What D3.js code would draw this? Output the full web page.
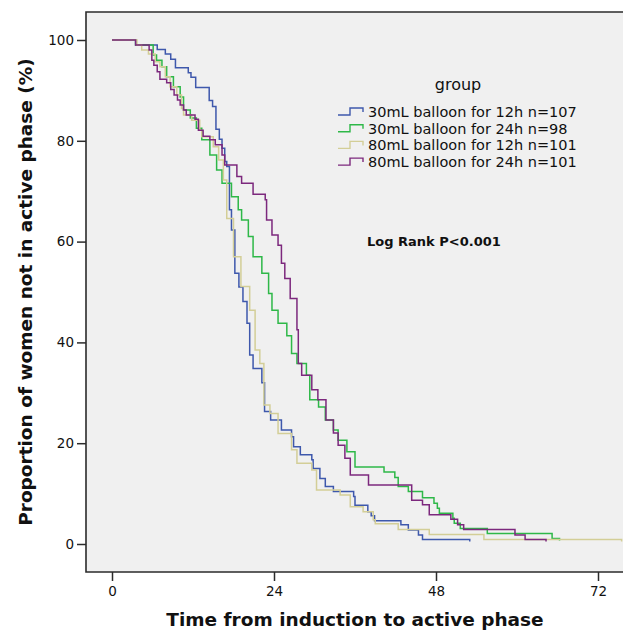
<!DOCTYPE html>
<head>
  <meta charset="utf-8">
  <script src="https://d3js.org/d3.v7.min.js"></script>
  <style>
    body { margin:0; background:#fff; }
    svg { display:block; }
    text { font-family: "DejaVu Sans", sans-serif; fill:#111; }
  </style>
</head>
<body>
  <svg width="623" height="633"></svg>
  <script>
    // group labels and SPSS default colours
    var groups = ['30mL balloon for 12h n=107', '30mL balloon for 24h n=98',
                  '80mL balloon for 12h n=101', '80mL balloon for 24h n=101'];
    var colors = ['#3e58ac', '#2eb848', '#d3ce97', '#7c287d'];
    var xTicks = [0, 24, 48, 72];
    var yTicks = [0, 20, 40, 60, 80, 100];

    // [hours, % still not in active phase] read off the steps
    var b30_12 = [[0,100],[3.5,99],[6.7,98.1],[7.9,97.2],[8.7,96.2],[9.4,94.5],[11.3,93.5],[11.7,92.6],
      [12.4,90.6],[14.4,88.0],[14.9,86.8],[15.4,82.3],[15.9,80.3],[16.3,78.5],[16.7,75.9],[17.0,74.9],
      [17.4,66.3],[17.7,62.3],[18.2,53.7],[18.8,51.0],[19.4,48.1],[20.0,43.8],[20.4,37.5],[20.9,34.8],
      [22.2,32.0],[22.6,26.3],[23.5,24.6],[25.1,22.6],[26.6,21.3],[26.9,19.3],[27.9,17.7],[29.6,16.7],
      [29.8,15.0],[30.8,13.0],[31.6,11.4],[32.8,10.4],[35.8,9.4],[36.0,7.7],[37.9,6.4],[38.4,5.6],
      [38.9,4.6],[42.8,3.8],[43.9,2.8],[45.4,1.8],[46.0,0.9],[53.0,0.9]];
    var b30_24 = [[0,100],[3.5,99],[6.1,97.0],[6.6,96.0],[7.4,94.7],[8.1,92.7],[9.1,90.7],[10.1,88.7],
      [10.6,86.1],[11.6,84.5],[12.5,82.5],[13.3,80.2],[14.5,77.2],[15.5,74.2],[16.3,71.6],[17.7,68.9],
      [18.7,66.3],[19.2,64.3],[20.2,61.0],[20.9,57.0],[22.2,53.7],[23.2,49.7],[23.7,46.4],[24.6,43.8],
      [25.9,41.3],[26.6,37.8],[27.4,35.8],[28.8,33.5],[29.3,28.6],[30.6,27.2],[31.6,24.6],[32.8,22.6],
      [33.5,20.6],[34.8,18.3],[36.0,15.3],[40.3,14.3],[41.9,13.2],[42.4,11.4],[43.9,10.4],[46.0,9.2],
      [47.7,8.1],[48.2,7.1],[48.5,6.1],[50.5,5.1],[50.7,4.1],[51.6,3.1],[55.6,2.1],[65.2,1.1],[66.3,1.1]];
    var b80_12 = [[0,100],[3.7,99],[4.4,98],[5.4,97.2],[6.4,95.7],[7.1,94.7],[7.9,92.7],[8.6,90.7],
      [9.6,89.1],[10.3,86.4],[10.6,85.1],[11.8,84.1],[13.0,82.1],[13.3,80.8],[15.0,78.8],[15.8,76.2],
      [16.5,72.2],[17.0,64.6],[18.0,57.0],[19.1,51.1],[20.4,46.4],[21.2,38.5],[21.9,35.8],[22.5,27.6],
      [23.4,25.9],[24.6,21.9],[26.6,18.7],[27.4,16.0],[29.6,14.7],[30.3,10.7],[33.8,9.7],[35.3,7.4],
      [37.2,6.4],[38.7,4.8],[39.0,4.0],[42.4,2.9],[47.0,1.9],[55.1,0.9],[75.5,0.9]];
    var b80_24 = [[0,100],[3.5,99],[5.5,98.0],[5.9,96.0],[6.2,95.0],[6.7,93.7],[7.1,92.2],[8.1,91.5],
      [8.7,90.2],[9.2,89.1],[9.7,88.1],[10.1,87.1],[10.6,86.1],[11.0,85.1],[12.3,84.3],[12.8,82.1],
      [13.5,80.9],[14.5,80.2],[15.3,79.2],[16.3,77.2],[16.7,75.2],[18.5,72.9],[19.2,71.6],[20.9,69.4],
      [22.7,68.3],[22.9,64.3],[23.7,61.3],[24.6,59.3],[25.1,55.7],[25.6,52.7],[26.4,48.7],[27.4,42.5],
      [27.6,35.8],[28.1,33.5],[29.6,30.6],[30.5,28.6],[31.7,24.6],[32.8,22.0],[33.5,19.6],[34.5,17.0],
      [35.3,13.7],[38.0,11.7],[44.4,8.7],[46.0,7.8],[47.0,5.8],[50.2,4.9],[51.2,3.8],[52.1,2.9],
      [59.7,1.8],[61.2,0.9],[64.3,0.9]];
    var series = [b30_12, b30_24, b80_12, b80_24];

    var width = 623, height = 633;
    var frame = {left: 86, top: 12, bottom: 572};

    var svg = d3.select('svg');

    var xScale = d3.scaleLinear().domain([0, 72]).range([112, 598]);
    var yScale = d3.scaleLinear().domain([0, 100]).range([544, 40]);

    // plot background + frame (right side runs off the picture)
    svg.append('rect')
      .attr('x', frame.left).attr('y', frame.top)
      .attr('width', width - frame.left + 10).attr('height', frame.bottom - frame.top)
      .attr('fill', '#f0f0f0');
    svg.append('path')
      .attr('d', 'M' + (width + 5) + ',' + frame.top + 'H' + frame.left + 'V' + frame.bottom + 'H' + (width + 5))
      .attr('fill', 'none').attr('stroke', '#2b2b2b').attr('stroke-width', 1.6);

    // axes
    var yAxis = svg.append('g')
      .attr('transform', 'translate(' + frame.left + ',0)')
      .call(d3.axisLeft(yScale).tickValues(yTicks).tickSize(9).tickPadding(3));
    var xAxis = svg.append('g')
      .attr('transform', 'translate(0,' + frame.bottom + ')')
      .call(d3.axisBottom(xScale).tickValues(xTicks).tickSize(9).tickPadding(5));
    [xAxis, yAxis].forEach(function(g) {
      g.select('.domain').remove();
      g.selectAll('line').attr('stroke', '#2b2b2b').attr('stroke-width', 1.5);
      g.selectAll('text').style('font-family', '"DejaVu Sans", sans-serif')
        .style('font-size', '13.5px').attr('fill', '#222');
    });

    // survival steps
    var line = d3.line()
      .x(d => xScale(d[0]))
      .y(d => yScale(d[1]))
      .curve(d3.curveStepAfter);

    svg.append('g').selectAll('path')
      .data(series)
      .join('path')
      .attr('d', d => line(d) + 'v2')
      .attr('fill', 'none')
      .attr('stroke', (d, i) => colors[i])
      .attr('stroke-width', 1.5);

    // axis titles
    svg.append('text')
      .attr('x', 355).attr('y', 626)
      .attr('text-anchor', 'middle')
      .style('font-size', '18.5px').style('font-weight', 'bold')
      .text('Time from induction to active phase');
    svg.append('text')
      .attr('transform', 'translate(32,292) rotate(-90)')
      .attr('text-anchor', 'middle')
      .style('font-size', '18.5px').style('font-weight', 'bold')
      .text('Proportion of women not in active phase (%)');

    // legend
    var legend = svg.append('g').attr('transform', 'translate(338,0)');
    legend.append('text')
      .attr('x', 120).attr('y', 90)
      .attr('text-anchor', 'middle')
      .style('font-size', '16px')
      .text('group');
    var item = legend.selectAll('.item')
      .data(groups)
      .join('g')
      .attr('class', 'item')
      .attr('transform', (d, i) => 'translate(0,' + (112 + i * 16.7) + ')');
    item.append('path')
      .attr('d', 'M0,3H12V-4H25V0')
      .attr('fill', 'none')
      .attr('stroke', (d, i) => colors[i])
      .attr('stroke-width', 1.4);
    item.append('text')
      .attr('x', 30).attr('y', 5)
      .style('font-size', '14.5px')
      .text(d => d);

    svg.append('text')
      .attr('x', 367).attr('y', 246)
      .style('font-size', '13px').style('font-weight', 'bold')
      .text('Log Rank P<0.001');
  </script>
</body>
